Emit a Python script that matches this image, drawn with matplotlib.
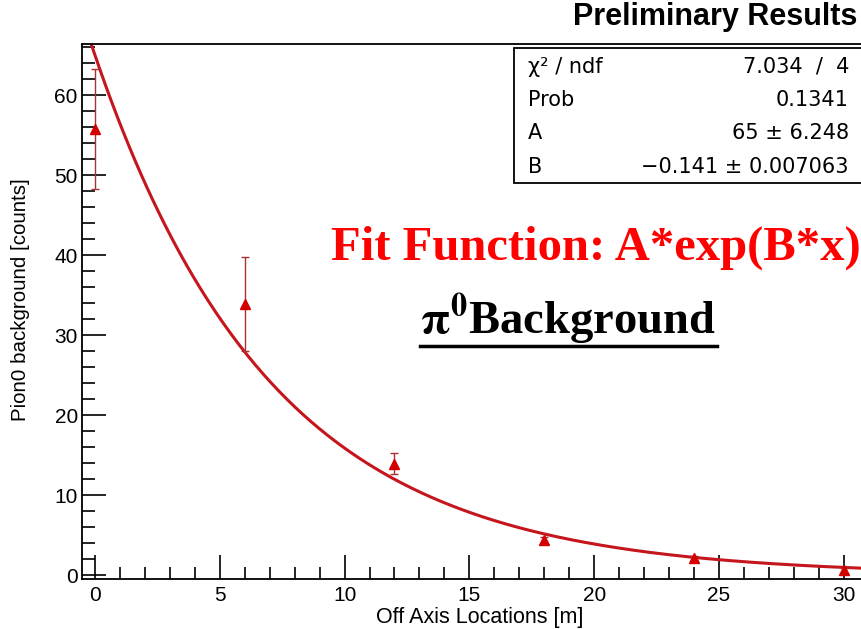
import numpy as np
import matplotlib
matplotlib.use('Agg')
import matplotlib.pyplot as plt
from matplotlib.patches import Rectangle
from matplotlib.ticker import MultipleLocator

# data
xPos = [0, 6, 12, 18, 24, 30]
yVal = [55.8, 33.9, 13.9, 4.4, 2.1, 0.6]
yErr = [7.5, 5.9, 1.3, 0.4, 0.3, 0.3]
fitA = 65.0
fitB = -0.141
statNames = ['\u03c7\u00b2 / ndf', 'Prob', 'A', 'B']
statValues = ['7.034  /  4', '0.1341', '65 \u00b1 6.248', '\u22120.141 \u00b1 0.007063']

W, H = 862, 629
plt.rcParams['font.family'] = ['Liberation Sans', 'DejaVu Sans']

fig = plt.figure(figsize=(W / 100, H / 100), dpi=100)
ax = fig.add_axes([82 / W, (H - 579) / H, 1 - 82 / W + 0.002, (579 - 44) / H])

xs = np.linspace(-0.52, 31, 400)
ax.plot(xs, fitA * np.exp(fitB * xs), color='#c4161c', lw=2.2, zorder=2)
ax.errorbar(xPos, yVal, yerr=yErr, fmt='^', color='#d40000', ms=7,
            ecolor='#a83232', elinewidth=1.0, capsize=3, capthick=1.0, zorder=3)

ax.set_xlim(-0.52, 30.8)
ax.set_ylim(-0.5, 66.4)
ax.xaxis.set_major_locator(MultipleLocator(5))
ax.xaxis.set_minor_locator(MultipleLocator(1))
ax.yaxis.set_major_locator(MultipleLocator(10))
ax.yaxis.set_minor_locator(MultipleLocator(2))
ax.tick_params(which='both', direction='in', top=False, right=False, labelsize=15, width=1.2)
ax.tick_params(which='major', length=17)
ax.tick_params(which='minor', length=9)
ax.tick_params(axis='x', pad=5)
ax.tick_params(axis='y', pad=3)
for s in ax.spines.values():
    s.set_linewidth(1.3)

fig.text(583 / W, 1 - 618 / H, 'Off Axis Locations [m]', ha='right', va='center', fontsize=15.5)
fig.text(21 / W, 1 - 178 / H, 'Pion0 background [counts]', ha='center', va='top',
         rotation=90, fontsize=14.75)

fig.text(857 / W, 1 - 17 / H, 'Preliminary Results', ha='right', va='center',
         fontsize=22, fontweight='bold')

# stats box
fig.patches.append(Rectangle((514 / W, 1 - 183 / H), (862 - 514) / W, (183 - 48) / H,
                             transform=fig.transFigure, fill=True, facecolor='white',
                             edgecolor='black', lw=1.3, zorder=5))
rowY = [67, 100, 133, 167]
for name, val, yy in zip(statNames, statValues, rowY):
    fig.text(528 / W, 1 - yy / H, name, ha='left', va='center', fontsize=15,
             family='DejaVu Sans', zorder=6)
    fig.text(849 / W, 1 - yy / H, val, ha='right', va='center', fontsize=15,
             family='DejaVu Sans', zorder=6)

fig.text(596 / W, 1 - 260 / H, 'Fit Function: A*exp(B*x)', ha='center', va='baseline',
         fontsize=35, fontweight='bold', color='#ff0000', family='Liberation Serif')
fig.text(568 / W, 1 - 334 / H, '$\\mathbf{\\pi}^{\\mathbf{0}}$Background', ha='center',
         va='baseline', fontsize=33.5, fontweight='bold', color='black',
         family='Liberation Serif', math_fontfamily='stix')
fig.add_artist(plt.Line2D([420 / W, 717 / W], [1 - 346 / H, 1 - 346 / H],
                          transform=fig.transFigure, color='black', lw=2.5))

fig.savefig('out.png', dpi=100)
